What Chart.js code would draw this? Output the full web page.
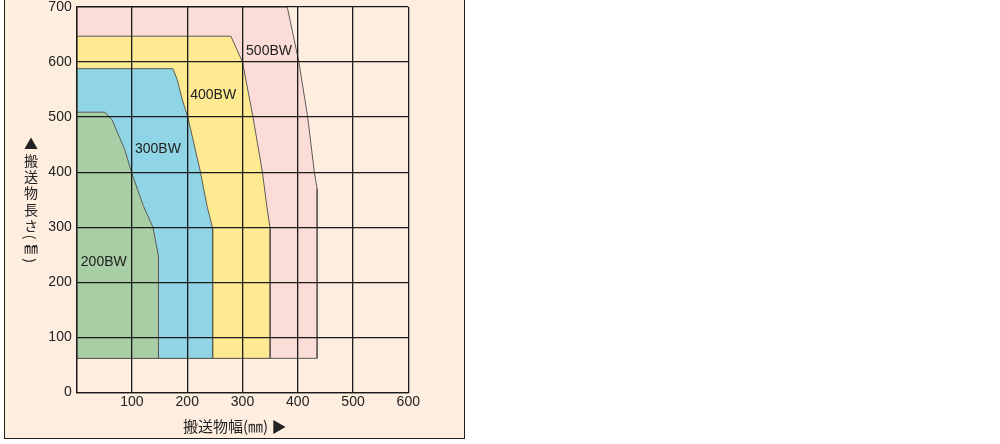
<!DOCTYPE html>
<html>
<head>
<meta charset="utf-8">
<script src="https://cdn.jsdelivr.net/npm/chart.js@4/dist/chart.umd.min.js"></script>
<style>
  body { margin: 0; background: #fff; width: 1000px; height: 444px; position: relative; overflow: hidden; }
  #panel { position: absolute; left: 4px; top: -2px; width: 461px; height: 441px; box-sizing: border-box;
           background: #feeee0; border: 1.5px solid #231f20; }
  #wrap { position: absolute; left: 0; top: 0; width: 470px; height: 444px; }
  #ytitle { position: absolute; left: 23px; top: 137px; writing-mode: vertical-rl; letter-spacing: 2.3px;
            font: 14px "Noto Sans CJK JP"; color: #222; line-height: 16px; }
  #xtitle { position: absolute; left: 183px; top: 416px; font: 15px "Noto Sans CJK JP"; color: #222;
            line-height: 20px; white-space: nowrap; }
</style>
</head>
<body>
<div id="panel"></div>
<div id="wrap"><canvas id="chart" width="470" height="444"></canvas></div>
<div id="ytitle">▲搬送物長さ(㎜)</div>
<div id="xtitle">搬送物幅(㎜) ▶</div>
<script>
// outline of each model's range: [width mm, length mm]
const seriesNames = ["200BW", "300BW", "400BW", "500BW"];
const bw200 = [[0,62],[0,509],[51,509],[64,495],[87,441],[99,400],[121,338],[138,300],[148,247],[148,62],[0,62]];
const bw300 = [[0,62],[0,588],[174,588],[182,568],[191,532],[201,500],[224,400],[236,338],[246,298],[246,62],[0,62]];
const bw400 = [[0,62],[0,647],[279,647],[300,600],[319,500],[336,400],[344,338],[350,298],[350,62],[0,62]];
const bw500 = [[0,62],[0,700],[381,700],[402,600],[418,500],[430,400],[435,370],[435,62],[0,62]];
const labelAt = [[49,237],[147,442],[247,540],[348,620]];
const fills = ["#a8cea6", "#8fd5e6", "#feea91", "#fbdcd7"];

const toPts = arr => arr.map(p => ({ x: p[0], y: p[1] }));
const tickFont = { family: "Liberation Sans", size: 14, lineHeight: 1 };

const bwLabels = {
  id: "bwLabels",
  afterDatasetsDraw(chart) {
    const { ctx, scales: { x, y } } = chart;
    ctx.save();
    ctx.font = "14px 'Liberation Sans'";
    ctx.fillStyle = "#222";
    ctx.textAlign = "center";
    ctx.textBaseline = "middle";
    seriesNames.forEach((n, i) => ctx.fillText(n, x.getPixelForValue(labelAt[i][0]), y.getPixelForValue(labelAt[i][1])));
    ctx.restore();
  }
};

new Chart(chart, {
  type: "scatter",
  data: {
    datasets: [bw200, bw300, bw400, bw500].map((d, i) => ({
      label: seriesNames[i],
      data: toPts(d),
      showLine: true,
      fill: "shape",
      backgroundColor: fills[i],
      borderColor: "#5e5a56",
      borderWidth: 1,
      pointRadius: 0,
      tension: 0
    }))
  },
  options: {
    responsive: false,
    animation: false,
    layout: { padding: { top: 0, right: 61.7, left: 0, bottom: 0 } },
    plugins: { legend: { display: false }, tooltip: { enabled: false } },
    scales: {
      x: {
        type: "linear", min: 0, max: 600,
        afterFit: s => { s.height = 51.5; },
        ticks: { stepSize: 100, padding: 3, color: "#222", font: tickFont,
                 callback: v => v === 0 ? "" : v },
        grid: { color: "#1a1a1a", lineWidth: 1.3, drawTicks: false, z: 1 },
        border: { color: "#1a1a1a", width: 1.3, z: 1 }
      },
      y: {
        type: "linear", min: 0, max: 700,
        afterFit: s => { s.width = 76.7; s.paddingTop = 7; },
        ticks: { stepSize: 100, padding: 5, color: "#222", font: tickFont },
        grid: { color: "#1a1a1a", lineWidth: 1.3, drawTicks: false, z: 1 },
        border: { color: "#1a1a1a", width: 1.3, z: 1 }
      }
    }
  },
  plugins: [bwLabels]
});
</script>
</body>
</html>
